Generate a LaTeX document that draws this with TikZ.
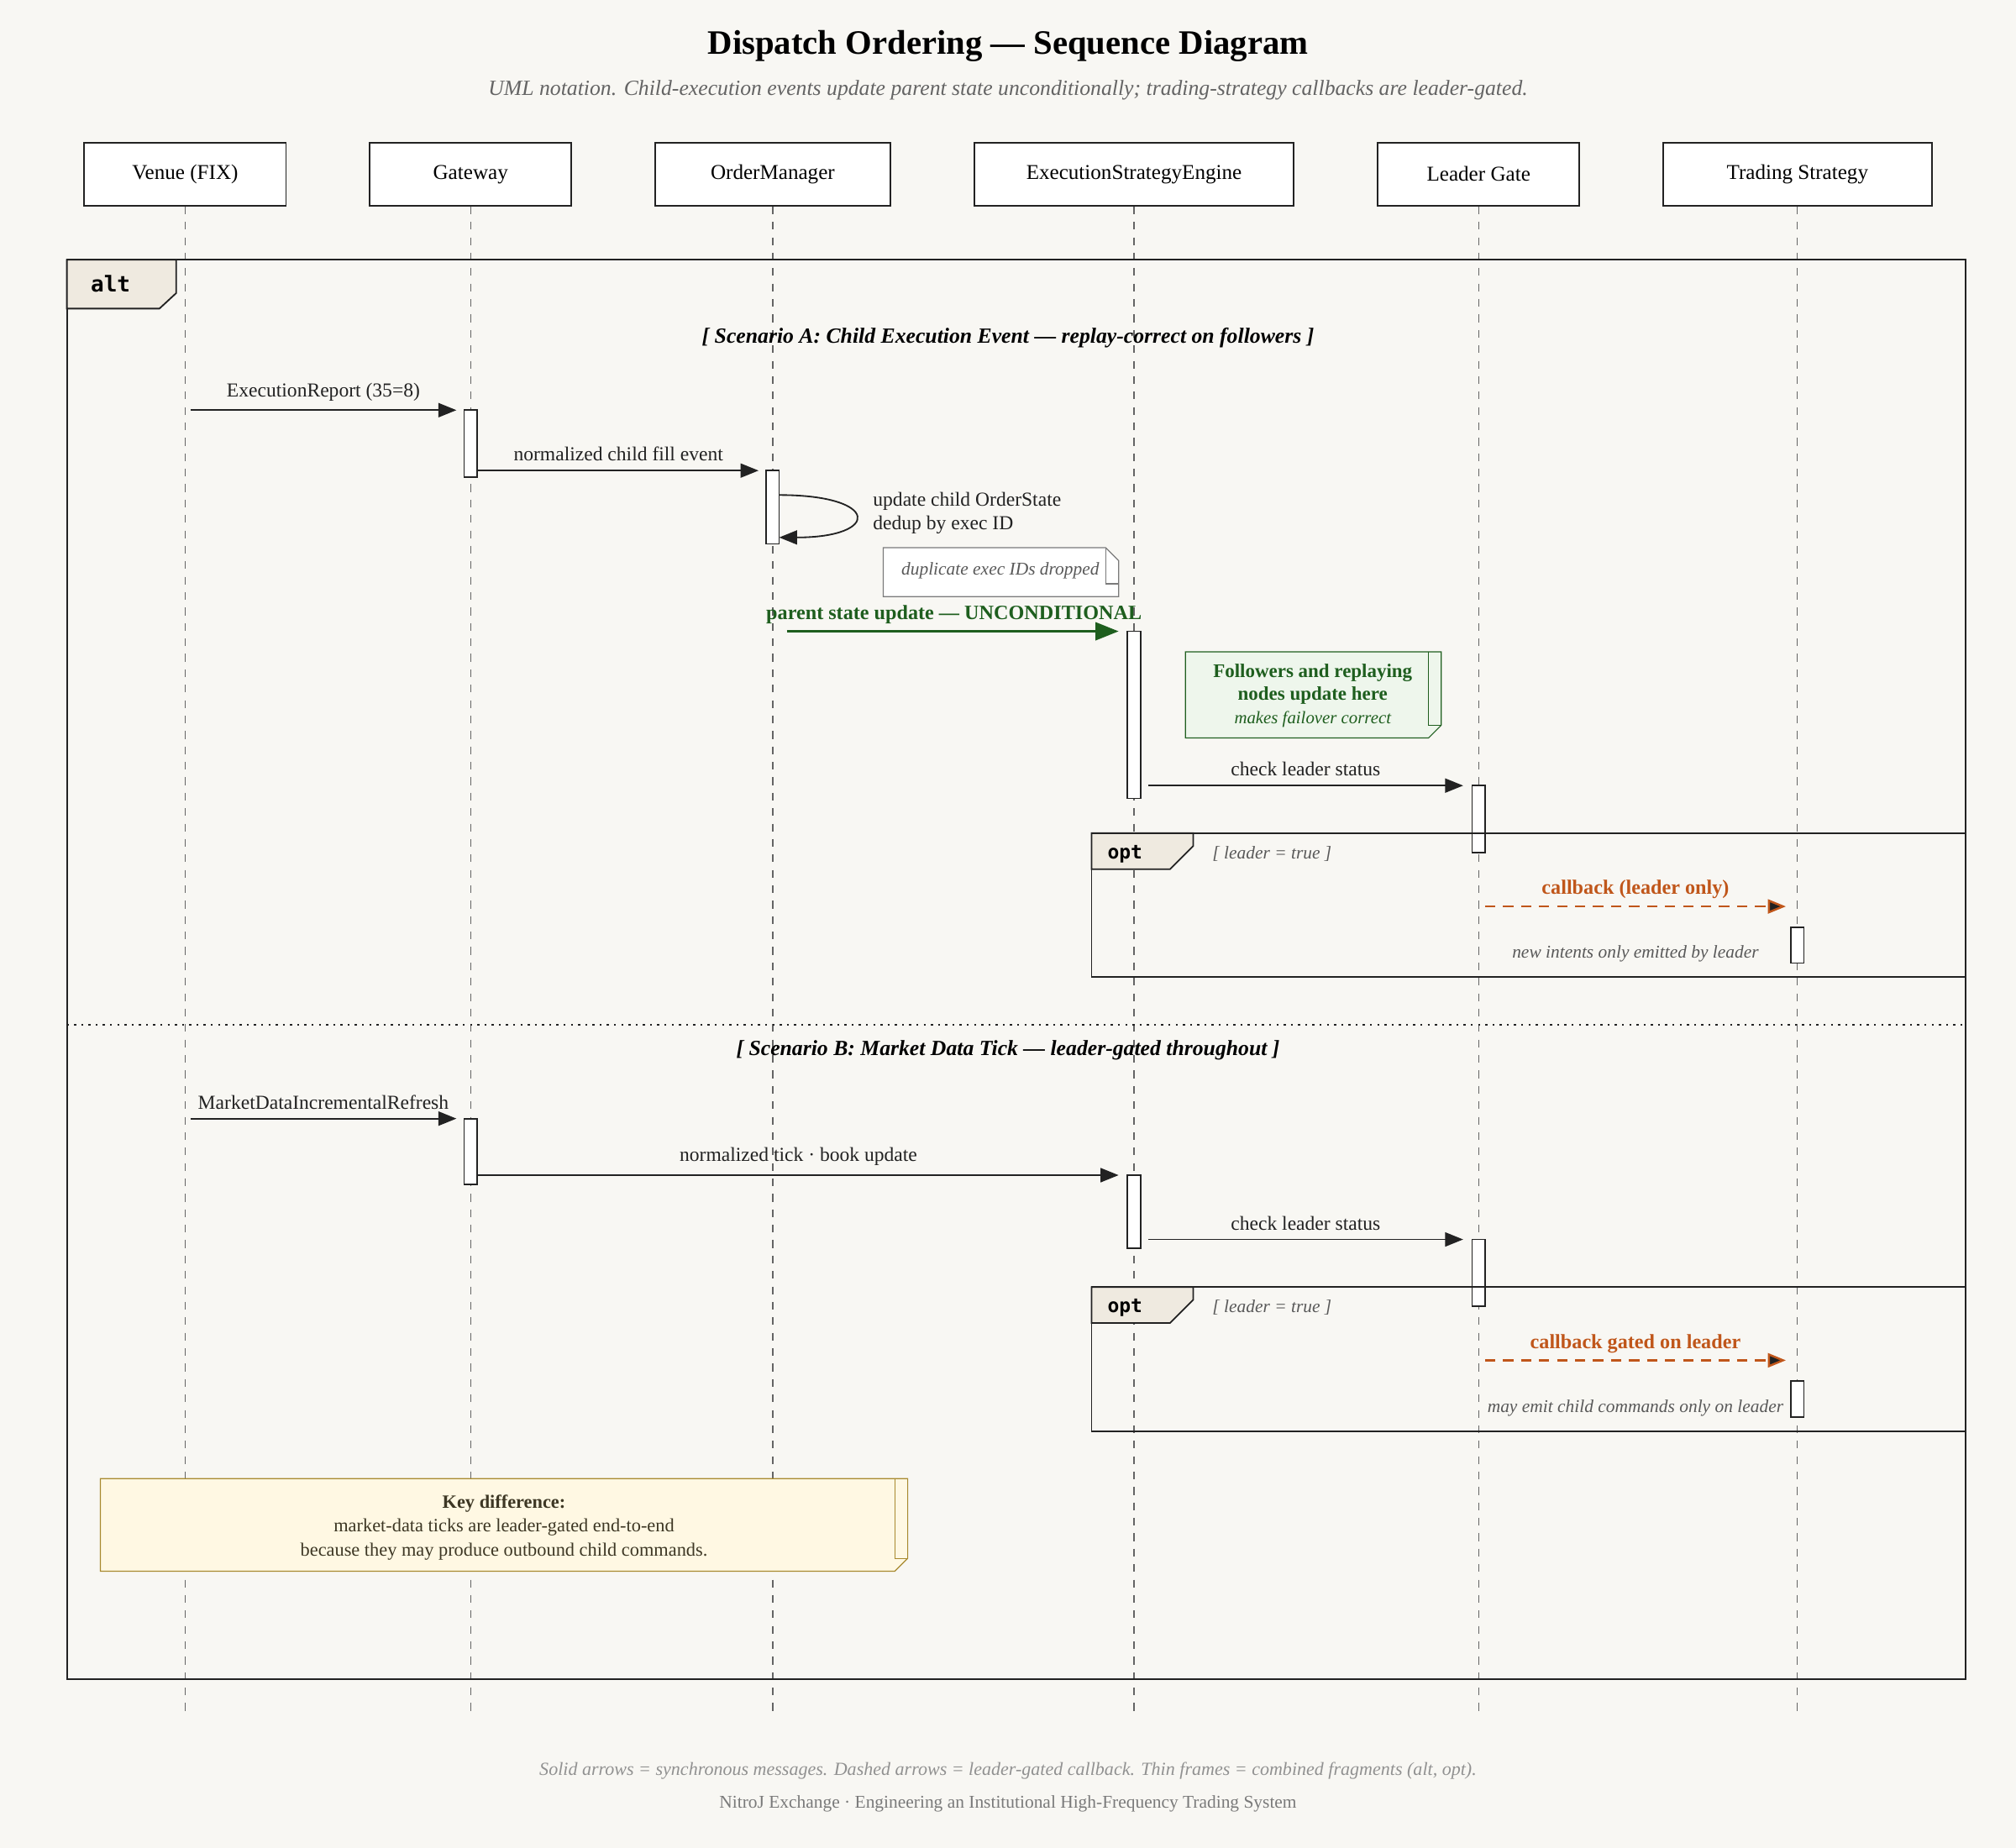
\documentclass[tikz,border=0pt]{standalone}
\usepackage{fontspec}
\setmainfont{Liberation Serif}
\setmonofont{DejaVu Sans Mono}
\usetikzlibrary{arrows.meta,positioning}

\definecolor{paper}{HTML}{F8F7F3}
\definecolor{ink}{HTML}{222222}
\definecolor{okgreen}{HTML}{1E5E1E}
\definecolor{notegreen}{HTML}{EEF6EC}
\definecolor{gateorange}{HTML}{C0561A}
\definecolor{keyfill}{HTML}{FFF8E3}
\definecolor{keyline}{HTML}{A8892E}
\definecolor{tabfill}{HTML}{EFEAE0}

\tikzset{
  actor/.style={draw=ink,fill=white,semithick,minimum height=24.5pt,font=\fontsize{8.2}{9}\selectfont},
  life/.style={ink!70,dashed,dash pattern=on 3pt off 3pt},
  act/.style={draw=ink,fill=white,semithick},
  msg/.style={ink,semithick,-{Triangle[length=7pt,width=5.5pt]}},
  gated/.style={gateorange,thick,dashed,dash pattern=on 4pt off 3pt,-{Triangle[length=7pt,width=5.5pt]}},
  lbl/.style={font=\fontsize{7.7}{9}\selectfont,text=ink},
  frame/.style={draw=ink,semithick},
  tab/.style={font=\ttfamily\bfseries\fontsize{7.5}{9}\selectfont},
  guard/.style={font=\itshape\fontsize{7}{9}\selectfont,text=ink!75},
}

\begin{document}
\begin{tikzpicture}[x=0.5pt,y=-0.5pt]

\fill[paper] (0,0) rectangle (1568,1437);
\useasboundingbox (0,0) rectangle (1568,1437);

% title
\node[font=\bfseries\fontsize{13.3}{15}\selectfont] (title) at (784,36) {Dispatch Ordering — Sequence Diagram};
\node[font=\itshape\fontsize{8.4}{9}\selectfont,text=ink!70] (sub) at (784,70) {UML notation. Child-execution events update parent state unconditionally; trading-strategy callbacks are leader-gated.};

% lifelines
\foreach \n/\x/\w/\t in {ven/144/78.5/Venue (FIX), gw/366/78.5/Gateway, om/601/91.5/OrderManager,
  ese/882/124/ExecutionStrategyEngine, lg/1150/78.5/Leader Gate, ts/1398/104.5/Trading Strategy}{
  \node[actor,minimum width=\w pt] (\n) at (\x,135.5) {\t};
  \coordinate (\n-end) at (\x,1332);
  \draw[life] (\n.south) -- (\n-end);
}

% alt frame
\draw[frame] (52,202) rectangle (1529,1306);
\draw[frame,fill=tabfill] (52,202) -- (137,202) -- (137,228) -- (124,240) -- (52,240) -- cycle;
\node[tab,font=\ttfamily\bfseries\fontsize{8.5}{9}\selectfont] (alt) at (86,221) {alt};
\node[font=\bfseries\itshape\fontsize{8.4}{9}\selectfont] (scA) at (784,263) {[ Scenario A: Child Execution Event — replay-correct on followers ]};

% activations A
\draw[act] (361,319) rectangle (371,371);
\draw[act] (596,366) rectangle (606,423);
\draw[act] (877,491) rectangle (887,621);
\draw[act] (1145,611) rectangle (1155,663);
\draw[act] (1393,721) rectangle (1403,749);

\coordinate (a1s) at (148,319); \coordinate (a1e) at (355,319);
\draw[msg] (a1s) -- (a1e) node[lbl,midway,above] {ExecutionReport (35=8)};
\coordinate (a2s) at (372,366); \coordinate (a2e) at (590,366);
\draw[msg] (a2s) -- (a2e) node[lbl,midway,above] {normalized child fill event};
\coordinate (a3s) at (606,385); \coordinate (a3e) at (606,418);
\draw[msg] (a3s) .. controls (685,385) and (685,418) .. (a3e);
\node[lbl,anchor=west,align=left] (selfl) at (672,399) {update child OrderState\\dedup by exec ID};

% dup note
\draw[ink!60,fill=white] (687,426) -- (860,426) -- (870,436) -- (870,464) -- (687,464) -- cycle;
\draw[ink!60] (860,426) -- (860,454) -- (870,454);
\node[guard] (dup) at (778,444) {duplicate exec IDs dropped};

\coordinate (a4s) at (612,491); \coordinate (a4e) at (870,491);
\draw[okgreen,thick,-{Triangle[length=9pt,width=7pt]}] (a4s) -- (a4e);
\node[font=\bfseries\fontsize{7.9}{9}\selectfont,text=okgreen] (uncond) at (742,478) {parent state update — UNCONDITIONAL};

% green note
\draw[okgreen,fill=notegreen] (922,507) -- (1121,507) -- (1121,564) -- (1111,574) -- (922,574) -- cycle;
\draw[okgreen] (1111,507) -- (1111,564) -- (1121,564);
\node[font=\fontsize{7.5}{9}\selectfont,text=okgreen,align=center] (fol) at (1021,541)
  {\textbf{Followers and replaying}\\\textbf{nodes update here}\\{\itshape\fontsize{6.8}{9}\selectfont makes failover correct}};

\coordinate (a5s) at (893,611); \coordinate (a5e) at (1138,611);
\draw[msg] (a5s) -- (a5e) node[lbl,midway,above] {check leader status};

% opt A
\draw[frame] (849,648) rectangle (1529,760);
\draw[frame,fill=tabfill] (849,648) -- (928,648) -- (928,658) -- (910,676) -- (849,676) -- cycle;
\node[tab] (optA) at (875,664) {opt};
\node[guard,anchor=west] (gA) at (936,664) {[ leader = true ]};
\coordinate (a6s) at (1155,705); \coordinate (a6e) at (1389,705);
\draw[gated,-{Triangle[length=7pt,width=5.5pt,fill=ink]}] (a6s) -- (a6e);
\node[font=\bfseries\fontsize{7.9}{9}\selectfont,text=gateorange] (cbA) at (1272,692) {callback (leader only)};
\node[guard] (newint) at (1272,742) {new intents only emitted by leader};

% divider
\draw[ink,thick,dotted] (52,797) -- (1529,797);
\node[font=\bfseries\itshape\fontsize{8.4}{9}\selectfont] (scB) at (784,817) {[ Scenario B: Market Data Tick — leader-gated throughout ]};

% activations B
\draw[act] (361,870) rectangle (371,921);
\draw[act] (877,914) rectangle (887,971);
\draw[act] (1145,964) rectangle (1155,1016);
\draw[act] (1393,1074) rectangle (1403,1102);

\coordinate (b1s) at (148,870); \coordinate (b1e) at (355,870);
\draw[msg] (b1s) -- (b1e) node[lbl,midway,above] {MarketDataIncrementalRefresh};
\coordinate (b2s) at (372,914); \coordinate (b2e) at (870,914);
\draw[msg] (b2s) -- (b2e) node[lbl,midway,above] {normalized tick · book update};
\coordinate (b3s) at (893,964); \coordinate (b3e) at (1138,964);
\draw[msg] (b3s) -- (b3e) node[lbl,midway,above] {check leader status};

% opt B
\draw[frame] (849,1001) rectangle (1529,1113);
\draw[frame,fill=tabfill] (849,1001) -- (928,1001) -- (928,1011) -- (910,1029) -- (849,1029) -- cycle;
\node[tab] (optB) at (875,1017) {opt};
\node[guard,anchor=west] (gB) at (936,1017) {[ leader = true ]};
\coordinate (b4s) at (1155,1058); \coordinate (b4e) at (1389,1058);
\draw[gated,-{Triangle[length=7pt,width=5.5pt,fill=ink]}] (b4s) -- (b4e);
\node[font=\bfseries\fontsize{7.9}{9}\selectfont,text=gateorange] (cbB) at (1272,1045) {callback gated on leader};
\node[guard] (mayemit) at (1272,1095) {may emit child commands only on leader};

% key note
\draw[keyline,fill=keyfill] (78,1150) -- (706,1150) -- (706,1212) -- (696,1222) -- (78,1222) -- cycle;
\draw[keyline] (696,1150) -- (696,1212) -- (706,1212);
\node[font=\fontsize{7.3}{9.3}\selectfont,text=ink!80!keyline,align=center] (key) at (392,1188)
  {\textbf{Key difference:}\\market-data ticks are leader-gated end-to-end\\because they may produce outbound child commands.};

% footer
\node[font=\itshape\fontsize{7.2}{9}\selectfont,text=ink!50] (foot1) at (784,1377) {Solid arrows = synchronous messages. Dashed arrows = leader-gated callback. Thin frames = combined fragments (alt, opt).};
\node[font=\fontsize{7}{9}\selectfont,text=ink!60] (foot2) at (784,1403) {NitroJ Exchange · Engineering an Institutional High-Frequency Trading System};

\end{tikzpicture}
\end{document}
